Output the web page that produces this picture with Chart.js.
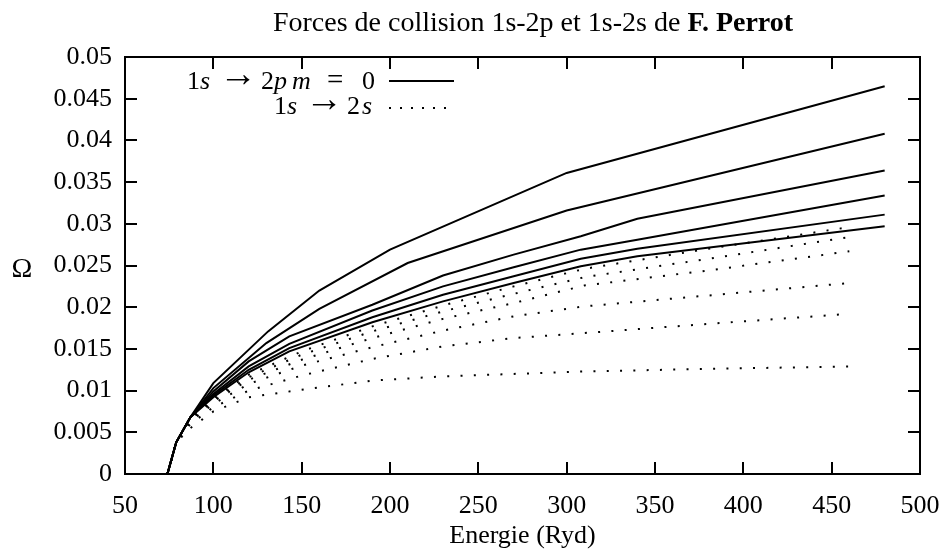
<!DOCTYPE html>
<html>
<head>
<meta charset="utf-8">
<script src="https://cdn.jsdelivr.net/npm/chart.js@4.4.0/dist/chart.umd.min.js"></script>
<style>
  html, body { margin: 0; padding: 0; background: #fff; }
</style>
</head>
<body>
<canvas id="chart" width="940" height="558"></canvas>
<script>
// 1s -> 2p (m = 0) : six solid curves, from top to bottom
const e2pA = [74, 79, 87, 100, 131, 160, 200, 300, 480];
const o2pA = [0, 0.0038, 0.0068, 0.0109, 0.0171, 0.0220, 0.0269, 0.0361, 0.0465];
const e2pB = [74, 79, 87, 100, 130, 160, 210, 300, 480];
const o2pB = [0, 0.0038, 0.0068, 0.0103, 0.0157, 0.0198, 0.0253, 0.0316, 0.0408];
const e2pC = [74, 79, 87, 100, 120, 143, 190, 230, 270, 308, 340, 480]; // shared by C..F
const o2pC = [0, 0.0038, 0.0068, 0.0099, 0.0135, 0.0165, 0.0203, 0.0238, 0.0263, 0.0285, 0.0306, 0.0364];
const o2pD = [0, 0.0038, 0.0068, 0.0096, 0.0129, 0.0156, 0.0196, 0.0225, 0.0248, 0.0269, 0.0281, 0.0334];
const o2pE = [0, 0.0038, 0.0068, 0.0094, 0.0125, 0.0151, 0.0188, 0.0215, 0.0237, 0.0258, 0.0270, 0.0311];
const o2pF = [0, 0.0038, 0.0068, 0.0092, 0.0122, 0.0147, 0.0182, 0.0207, 0.0229, 0.0249, 0.0261, 0.0297];

// 1s -> 2s : six dotted curves
const e2s  = [74, 79, 87, 100, 120, 150, 190, 230, 270, 310, 380, 460];
const o2sA = [0, 0.0038, 0.0067, 0.0091, 0.0119, 0.0147, 0.0177, 0.0202, 0.0225, 0.0246, 0.0270, 0.0296];
const o2sB = [0, 0.0038, 0.0066, 0.0089, 0.0116, 0.0143, 0.0171, 0.0195, 0.0216, 0.0236, 0.0258, 0.0284];
const o2sC = [0, 0.0038, 0.0065, 0.0087, 0.0113, 0.0137, 0.0163, 0.0186, 0.0205, 0.0226, 0.0244, 0.0267];
const o2sD = [0, 0.0038, 0.0063, 0.0084, 0.0108, 0.0130, 0.0152, 0.0172, 0.0189, 0.0201, 0.0214, 0.0229];
const o2sE = [0, 0.0038, 0.0060, 0.0080, 0.0100, 0.0118, 0.0138, 0.0153, 0.0163, 0.0169, 0.0180, 0.0192];
const o2sF = [0, 0.0038, 0.0055, 0.0075, 0.0092, 0.0101, 0.0112, 0.0117, 0.0120, 0.0123, 0.0126, 0.0129];

const FONT = '"Liberation Serif", "DejaVu Serif", serif';

function pts(xs, ys) {
  return xs.map((x, i) => ({ x: x, y: ys[i] }));
}
function solid(xs, ys) {
  return { data: pts(xs, ys), borderColor: '#000', borderWidth: 2, pointRadius: 0, tension: 0, fill: false };
}
function dotted(xs, ys) {
  return { data: pts(xs, ys), borderColor: '#000', borderWidth: 2, borderDash: [2, 11.3], borderCapStyle: 'butt',
           pointRadius: 0, tension: 0, fill: false };
}

// legend glyphs, math style: [text, font, left x, baseline shift]
function drawGlyphs(ctx, glyphs, base) {
  glyphs.forEach(g => {
    ctx.font = g[1];
    ctx.fillText(g[0], g[2], base + (g[3] || 0));
  });
}

const frame = {
  id: 'frame',
  afterDraw(chart) {
    const ctx = chart.ctx;
    const a = chart.chartArea;
    const sx = chart.scales.x, sy = chart.scales.y;
    ctx.save();
    ctx.strokeStyle = '#000';
    ctx.lineWidth = 2;
    ctx.setLineDash([]);
    ctx.strokeRect(a.left, a.top, a.right - a.left, a.bottom - a.top);
    ctx.beginPath();
    sx.ticks.forEach(t => {
      const px = Math.round(sx.getPixelForValue(t.value));
      ctx.moveTo(px, a.bottom); ctx.lineTo(px, a.bottom - 12);
      ctx.moveTo(px, a.top); ctx.lineTo(px, a.top + 12);
    });
    sy.ticks.forEach(t => {
      const py = Math.round(sy.getPixelForValue(t.value));
      ctx.moveTo(a.left, py); ctx.lineTo(a.left + 12, py);
      ctx.moveTo(a.right, py); ctx.lineTo(a.right - 12, py);
    });
    ctx.stroke();

    // title
    ctx.fillStyle = '#000';
    ctx.textBaseline = 'alphabetic';
    const t1 = 'Forces de collision 1s-2p et 1s-2s de ';
    const t2 = 'F. Perrot';
    ctx.font = '28px ' + FONT;
    const w1 = ctx.measureText(t1).width;
    ctx.font = 'bold 28px ' + FONT;
    const w2 = ctx.measureText(t2).width;
    const x0 = 533 - (w1 + w2) / 2;
    ctx.font = '28px ' + FONT;
    ctx.fillText(t1, x0, 31);
    ctx.font = 'bold 28px ' + FONT;
    ctx.fillText(t2, x0 + w1, 31);

    // y label
    ctx.font = '28px ' + FONT;
    ctx.textAlign = 'center';
    ctx.fillText('Ω', 22, 277);
    ctx.textAlign = 'left';

    // legend
    const rm = '26px ' + FONT, it = 'italic 26px ' + FONT, arr = '38px ' + FONT, eq = '29px ' + FONT;
    drawGlyphs(ctx, [['1', rm, 187], ['s', it, 200], ['→', arr, 219, -3], ['2', rm, 261], ['p', it, 274],
                     ['m', it, 292], ['=', eq, 327], ['0', rm, 362]], 89);
    drawGlyphs(ctx, [['1', rm, 274], ['s', it, 287], ['→', arr, 305, -3], ['2', rm, 347], ['s', it, 362]], 114);
    ctx.beginPath();
    ctx.moveTo(389, 81); ctx.lineTo(454, 81);
    ctx.stroke();
    ctx.setLineDash([2, 9]);
    ctx.beginPath();
    ctx.moveTo(389, 108); ctx.lineTo(454, 108);
    ctx.stroke();
    ctx.restore();
  }
};

new Chart(document.getElementById('chart').getContext('2d'), {
  type: 'line',
  data: {
    datasets: [
      solid(e2pA, o2pA), solid(e2pB, o2pB), solid(e2pC, o2pC),
      solid(e2pC, o2pD), solid(e2pC, o2pE), solid(e2pC, o2pF),
      dotted(e2s, o2sA), dotted(e2s, o2sB), dotted(e2s, o2sC),
      dotted(e2s, o2sD), dotted(e2s, o2sE), dotted(e2s, o2sF)
    ]
  },
  options: {
    responsive: false,
    animation: false,
    layout: { padding: { top: 57, right: 20, left: 0, bottom: 0 } },
    plugins: { legend: { display: false }, title: { display: false }, tooltip: { enabled: false } },
    scales: {
      x: {
        type: 'linear', min: 50, max: 500,
        ticks: { stepSize: 50, color: '#000', font: { family: FONT, size: 26 }, padding: 17, maxRotation: 0 },
        grid: { display: false, drawTicks: false },
        border: { display: false },
        title: { display: true, text: 'Energie (Ryd)', color: '#000', font: { family: FONT, size: 26 }, padding: { top: 0, bottom: 6 } },
        afterFit: s => { s.height = 84; s.paddingLeft = 0; s.paddingRight = 0; }
      },
      y: {
        min: 0, max: 0.05,
        ticks: { stepSize: 0.005, color: '#000', font: { family: FONT, size: 26 }, padding: 13,
                 callback: v => String(+v.toFixed(3)) },
        grid: { display: false, drawTicks: false },
        border: { display: false },
        afterFit: s => { s.width = 125; s.paddingTop = 0; s.paddingBottom = 0; }
      }
    }
  },
  plugins: [frame]
});
</script>
</body>
</html>
